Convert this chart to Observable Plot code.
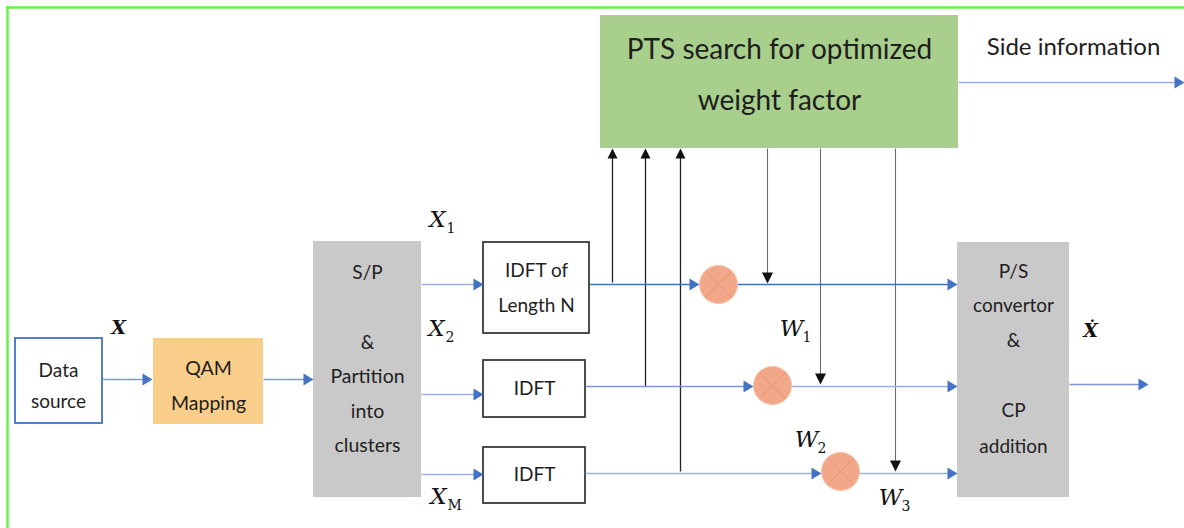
<!DOCTYPE html>
<html><head><meta charset="utf-8">
<script src="https://cdn.jsdelivr.net/npm/d3@7"></script>
<script src="https://cdn.jsdelivr.net/npm/@observablehq/plot@0.6"></script>
<style>
html,body{margin:0;padding:0;background:#fff;}
#chart svg{display:block;}
</style></head><body><div id="chart"></div>
<script>
// ---- diagram data ----
const blocks = [
  {name: "Data source", kind: "source", x1: 15, x2: 102, y1: 338, y2: 423},
  {name: "QAM Mapping", kind: "qam", x1: 153, x2: 263, y1: 338, y2: 424},
  {name: "S/P", kind: "gray", x1: 313, x2: 421, y1: 241, y2: 497},
  {name: "IDFT N", kind: "idft", x1: 483, x2: 589, y1: 242, y2: 333},
  {name: "IDFT 2", kind: "idft", x1: 483, x2: 585, y1: 360, y2: 417},
  {name: "IDFT M", kind: "idft", x1: 483, x2: 585, y1: 447, y2: 503},
  {name: "PTS", kind: "pts", x1: 600, x2: 958, y1: 15, y2: 148},
  {name: "P/S", kind: "gray", x1: 957, x2: 1069, y1: 242, y2: 497}
];
const blockLines = [
  {text: "Data", x: 58, y: 370, size: 19},
  {text: "source", x: 58, y: 401, size: 19},
  {text: "QAM", x: 208, y: 368, size: 19.5},
  {text: "Mapping", x: 208, y: 403, size: 19.5},
  {text: "S/P", x: 367, y: 272, size: 19},
  {text: "&", x: 367, y: 342, size: 19},
  {text: "Partition", x: 367, y: 376, size: 19.5},
  {text: "into", x: 367, y: 411, size: 19.5},
  {text: "clusters", x: 367, y: 445, size: 19.5},
  {text: "IDFT of", x: 536, y: 270, size: 19},
  {text: "Length N", x: 536, y: 305, size: 19},
  {text: "IDFT", x: 534, y: 388, size: 19},
  {text: "IDFT", x: 534, y: 474, size: 19},
  {text: "PTS search for optimized", x: 779, y: 50, size: 28},
  {text: "weight factor", x: 779, y: 101, size: 28},
  {text: "P/S", x: 1013, y: 271, size: 19},
  {text: "convertor", x: 1013, y: 305, size: 19},
  {text: "&", x: 1013, y: 340, size: 19},
  {text: "CP", x: 1013, y: 410, size: 19},
  {text: "addition", x: 1013, y: 446, size: 19},
  {text: "Side information", x: 1073, y: 47, size: 24}
];
const signalArrows = [
  {x1: 102, y1: 379, x2: 152, y2: 379, tone: "mid"},
  {x1: 263, y1: 379, x2: 313, y2: 379, tone: "mid"},
  {x1: 421, y1: 284, x2: 483, y2: 284, tone: "light"},
  {x1: 421, y1: 394, x2: 483, y2: 394, tone: "light"},
  {x1: 421, y1: 474, x2: 483, y2: 474, tone: "light"},
  {x1: 589, y1: 284, x2: 699, y2: 284, tone: "dark"},
  {x1: 737, y1: 284, x2: 957, y2: 284, tone: "dark"},
  {x1: 585, y1: 386, x2: 753, y2: 386, tone: "mid"},
  {x1: 791, y1: 386, x2: 957, y2: 386, tone: "light"},
  {x1: 585, y1: 473, x2: 821, y2: 473, tone: "light"},
  {x1: 859, y1: 473, x2: 957, y2: 473, tone: "light"},
  {x1: 1069, y1: 384, x2: 1148, y2: 384, tone: "mid"},
  {x1: 958, y1: 82, x2: 1184, y2: 82, tone: "light"}
];
const feedbackArrows = [
  {x1: 612, y1: 282, x2: 612, y2: 148},
  {x1: 645, y1: 386, x2: 645, y2: 148},
  {x1: 680, y1: 471, x2: 680, y2: 148}
];
const weightArrows = [
  {x1: 767, y1: 148, x2: 767, y2: 283},
  {x1: 820, y1: 148, x2: 820, y2: 384},
  {x1: 895, y1: 148, x2: 895, y2: 471}
];
const multipliers = [
  {name: "w1", x: 718, y: 284},
  {name: "w2", x: 772, y: 385},
  {name: "w3", x: 840, y: 471}
];
const mathLabels = [
  {base: "X", sub: "1", x: 437, y: 219},
  {base: "X", sub: "2", x: 436, y: 328},
  {base: "X", sub: "M", x: 438, y: 496},
  {base: "W", sub: "1", x: 791, y: 328},
  {base: "W", sub: "2", x: 806, y: 439},
  {base: "W", sub: "3", x: 890, y: 497}
];
const boldLabels = [
  {text: "X", x: 118, y: 327},
  {text: "Ẋ", x: 1090, y: 330}
];

// ---- styles ----
const palette = {source: "#ffffff", qam: "#F9CE8A", gray: "#C9C9C9", idft: "#ffffff", pts: "#A8CF8C"};
const outline = {source: "#4472C4", qam: "none", gray: "none", idft: "#3a3a3a", pts: "none"};
const tones = {dark: "#4A6EB8", mid: "#7C98D2", light: "#9AB0DE"};
const BLUE = "#4472C4";

function heads(arrows, len, half) {
  const pts = [];
  arrows.forEach((a, i) => {
    const dx = a.x2 - a.x1, dy = a.y2 - a.y1, L = Math.hypot(dx, dy);
    const ux = dx / L, uy = dy / L;
    const bx = a.x2 - ux * len, by = a.y2 - uy * len;
    pts.push({id: i, x: a.x2, y: a.y2},
             {id: i, x: bx - uy * half, y: by + ux * half},
             {id: i, x: bx + uy * half, y: by - ux * half},
             {id: i, x: a.x2, y: a.y2});
  });
  return pts;
}
const R = 19;
const crosses = multipliers.flatMap(m => [
  {x1: m.x - R * 0.68, y1: m.y - R * 0.68, x2: m.x + R * 0.68, y2: m.y + R * 0.68},
  {x1: m.x - R * 0.68, y1: m.y + R * 0.68, x2: m.x + R * 0.68, y2: m.y - R * 0.68}
]);
const serif = "'DejaVu Serif', 'Liberation Serif', serif";

const chart = Plot.plot({
  width: 1184, height: 528, margin: 0,
  x: {domain: [0, 1184], range: [0, 1184], axis: null},
  y: {domain: [0, 528], range: [0, 528], axis: null},
  color: {type: "identity"},
  style: {fontFamily: "Lato, 'Open Sans', sans-serif", background: "#fff", overflow: "visible"},
  marks: [
    // outer green frame
    Plot.ruleY([7], {x1: 6, x2: 1184, stroke: "#6CF04C", strokeWidth: 2.5}),
    Plot.ruleX([7], {y1: 6, y2: 528, stroke: "#6CF04C", strokeWidth: 2.5}),
    // blocks
    Plot.rect(blocks, {x1: "x1", x2: "x2", y1: "y1", y2: "y2",
      fill: d => palette[d.kind], stroke: d => outline[d.kind],
      strokeWidth: 1.8}),
    // vertical control lines
    Plot.link(feedbackArrows, {x1: "x1", y1: "y1", x2: "x2", y2: d => d.y2 + 6, stroke: "#222", strokeWidth: 1.3}),
    Plot.link(weightArrows, {x1: "x1", y1: "y1", x2: "x2", y2: d => d.y2 - 6, stroke: "#6a6a6a", strokeWidth: 1.1}),
    // signal lines
    Plot.link(signalArrows, {x1: "x1", y1: "y1", x2: d => d.x2 - 6, y2: "y2", stroke: d => tones[d.tone], strokeWidth: 1.6}),
    // arrow heads
    Plot.line(heads(signalArrows, 10, 6), {x: "x", y: "y", z: "id", fill: BLUE, stroke: "none"}),
    Plot.line(heads(feedbackArrows, 10, 5), {x: "x", y: "y", z: "id", fill: "#111", stroke: "none"}),
    Plot.line(heads(weightArrows, 11, 5.5), {x: "x", y: "y", z: "id", fill: "#111", stroke: "none"}),
    // multipliers
    Plot.dot(multipliers, {x: "x", y: "y", r: R, fill: "#F2A888", stroke: "#F6C2A8", strokeWidth: 1}),
    Plot.link(crosses, {x1: "x1", y1: "y1", x2: "x2", y2: "y2", stroke: "#E0987A", strokeWidth: 1}),
    // block texts
    Plot.text(blockLines, {x: "x", y: "y", text: "text", fontSize: "size", fill: "#1e1e1e", textAnchor: "middle", lineAnchor: "middle"}),
    // math labels
    Plot.text(mathLabels, {x: "x", y: "y", text: "base", fontSize: 23, fill: "#111", fontFamily: serif, fontStyle: "italic", lineAnchor: "middle"}),
    Plot.text(mathLabels, {x: d => d.x + (d.base === "W" ? 11 : 9), y: d => d.y + 9, text: "sub", fontSize: 14,
      fill: "#111", fontFamily: serif, textAnchor: "start", lineAnchor: "middle"}),
    Plot.text(boldLabels, {x: "x", y: "y", text: "text", fontSize: 19, fill: "#111", fontFamily: serif, fontStyle: "italic", fontWeight: "bold", lineAnchor: "middle"})
  ]
});
document.getElementById("chart").appendChild(chart);
</script>
</body></html>
